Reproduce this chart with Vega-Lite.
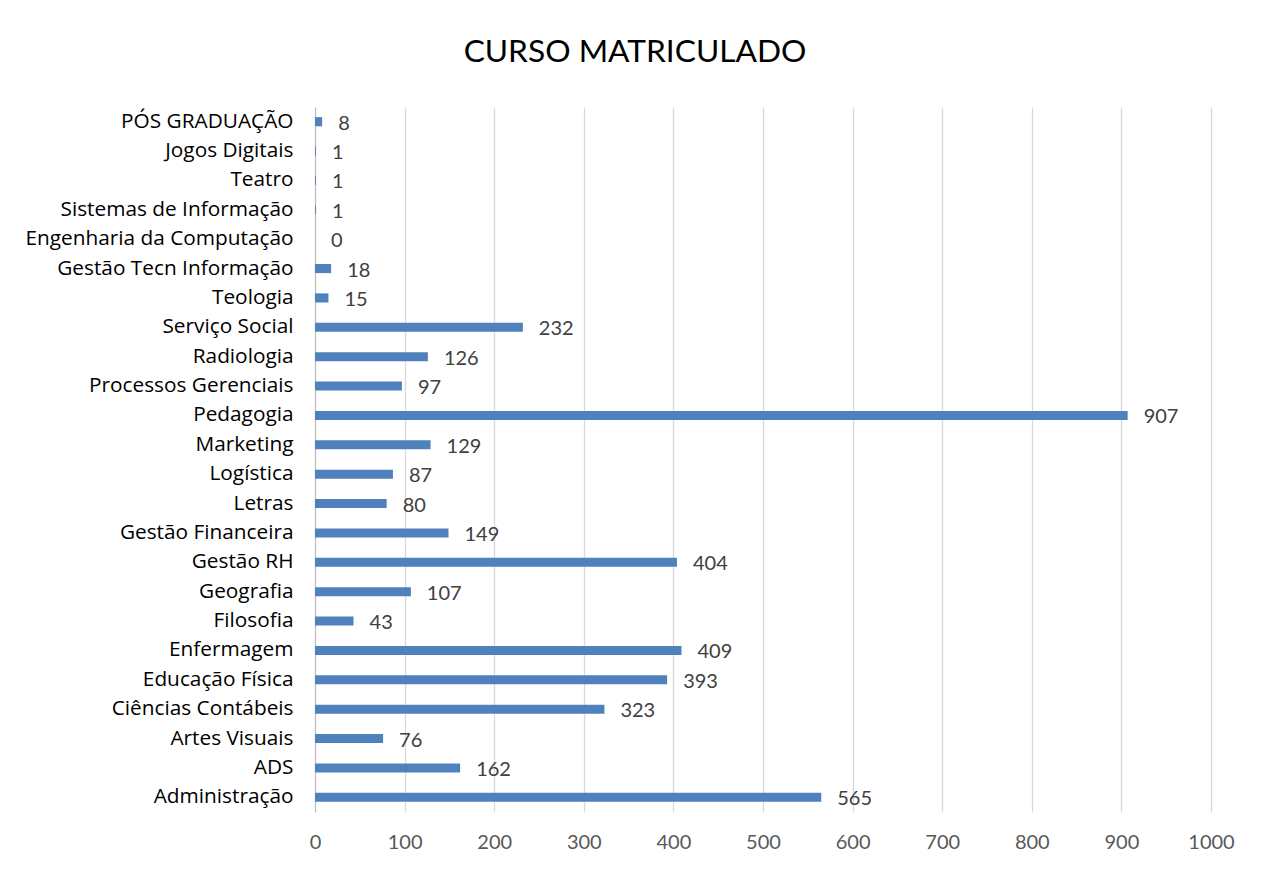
{
  "$schema": "https://vega.github.io/schema/vega-lite/v6.json",
  "autosize": {"type": "none"},
  "width": 896,
  "height": 705,
  "padding": {"left": 315, "top": 107, "right": 58, "bottom": 57},
  "background": "white",
  "config": {
    "view": {"stroke": null},
    "font": "Lato"
  },
  "title": {
    "text": "CURSO MATRICULADO",
    "fontSize": 31.7,
    "fontWeight": "normal",
    "color": "#000000",
    "anchor": "middle",
    "dx": -128,
    "offset": 38,
    "font": "Lato"
  },
  "data": {
    "values": [
      {"curso": "PÓS GRADUAÇÃO", "n": 8},
      {"curso": "Jogos Digitais", "n": 1},
      {"curso": "Teatro", "n": 1},
      {"curso": "Sistemas de Informação", "n": 1},
      {"curso": "Engenharia da Computação", "n": 0},
      {"curso": "Gestão Tecn Informação", "n": 18},
      {"curso": "Teologia", "n": 15},
      {"curso": "Serviço Social", "n": 232},
      {"curso": "Radiologia", "n": 126},
      {"curso": "Processos Gerenciais", "n": 97},
      {"curso": "Pedagogia", "n": 907},
      {"curso": "Marketing", "n": 129},
      {"curso": "Logística", "n": 87},
      {"curso": "Letras", "n": 80},
      {"curso": "Gestão Financeira", "n": 149},
      {"curso": "Gestão RH", "n": 404},
      {"curso": "Geografia", "n": 107},
      {"curso": "Filosofia", "n": 43},
      {"curso": "Enfermagem", "n": 409},
      {"curso": "Educação Física", "n": 393},
      {"curso": "Ciências Contábeis", "n": 323},
      {"curso": "Artes Visuais", "n": 76},
      {"curso": "ADS", "n": 162},
      {"curso": "Administração", "n": 565}
    ]
  },
  "encoding": {
    "y": {
      "field": "curso",
      "type": "nominal",
      "sort": null,
      "scale": {"paddingInner": 0.69, "paddingOuter": 0.345},
      "axis": {
        "title": null,
        "domain": false,
        "ticks": false,
        "labelFont": "Open Sans",
        "labelFontSize": 20.8,
        "labelColor": "#000000",
        "labelPadding": 22,
        "labelLimit": 400
      }
    },
    "x": {
      "field": "n",
      "type": "quantitative",
      "scale": {"domain": [0, 1000], "nice": false},
      "axis": {
        "title": null,
        "domain": false,
        "ticks": false,
        "format": "d",
        "labelFlush": false,
        "values": [0, 100, 200, 300, 400, 500, 600, 700, 800, 900, 1000],
        "labelFontSize": 20,
        "labelColor": "#595959",
        "labelPadding": 20,
        "gridColor": {"condition": {"test": "datum.value === 0", "value": "#bfbfbf"}, "value": "#d9d9d9"},
        "gridWidth": 1.3
      }
    }
  },
  "layer": [
    {"mark": {"type": "bar", "color": "#4f81bd"}},
    {
      "mark": {"type": "text", "align": "left", "baseline": "middle", "dx": 16, "dy": 2, "fontSize": 20, "color": "#404040"},
      "encoding": {"text": {"field": "n", "type": "quantitative"}}
    }
  ]
}
